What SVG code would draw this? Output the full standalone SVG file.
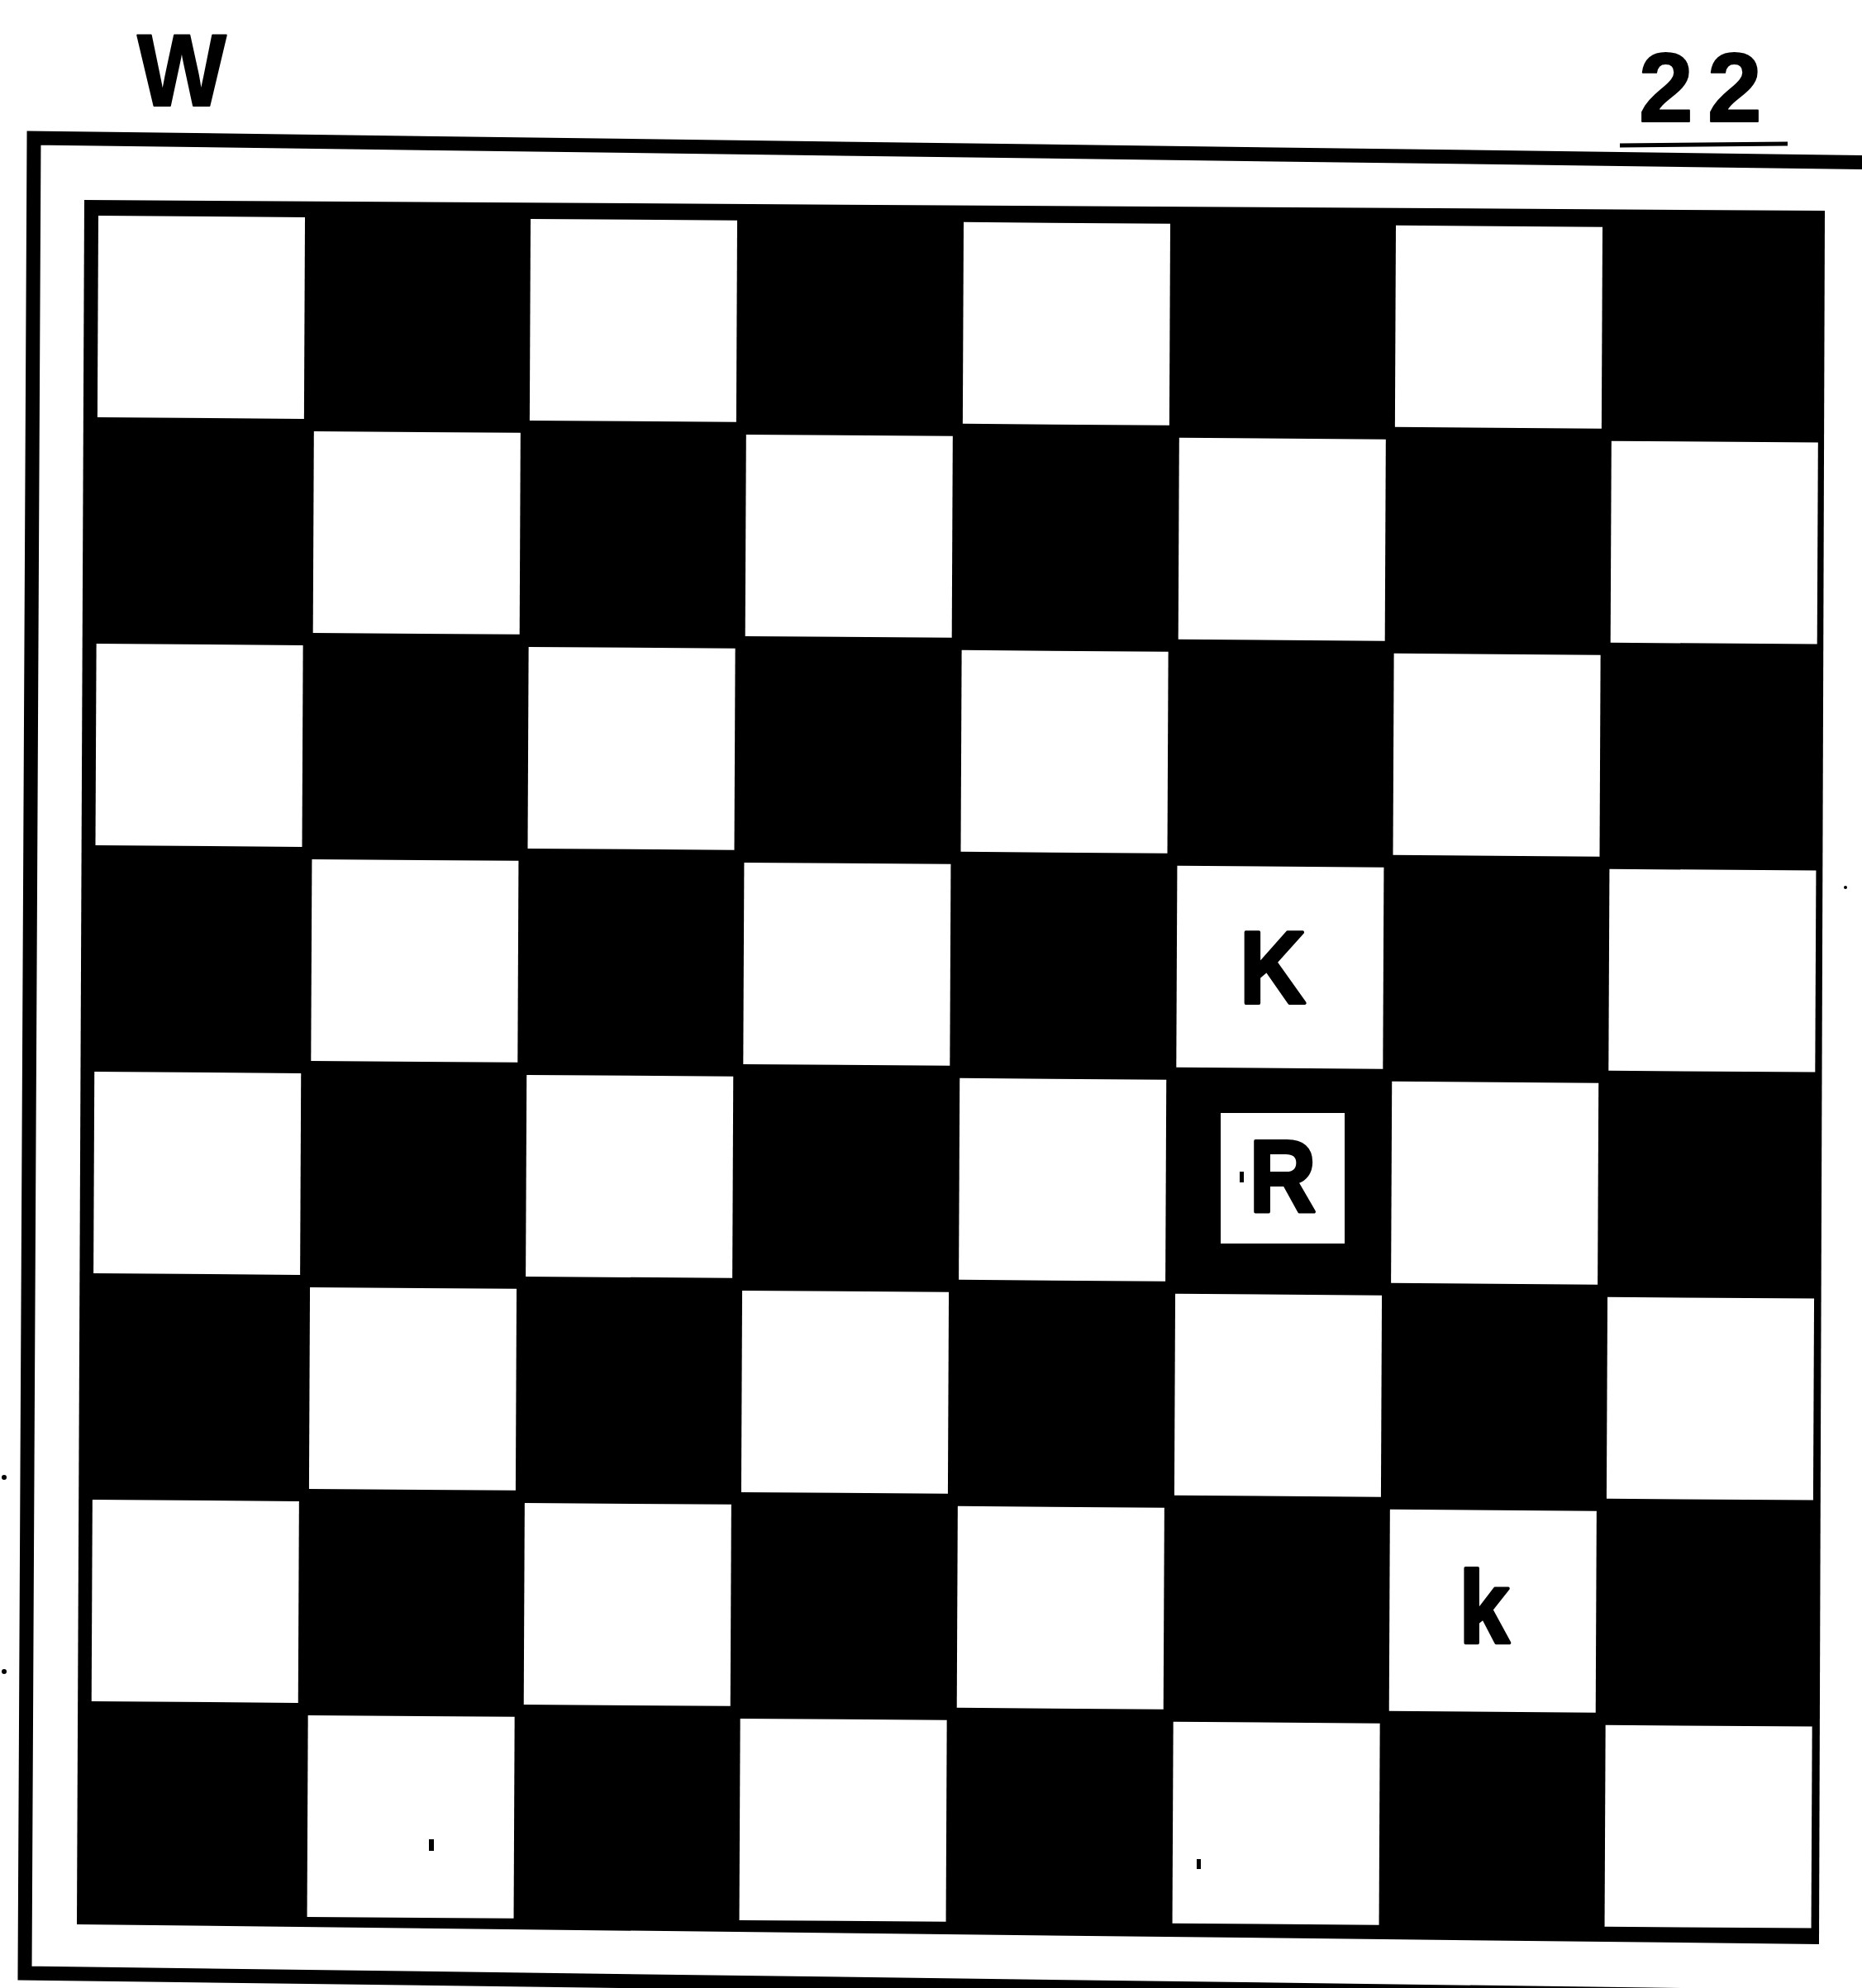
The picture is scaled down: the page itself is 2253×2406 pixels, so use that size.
<svg xmlns="http://www.w3.org/2000/svg" width="2253" height="2406" viewBox="0 0 2253 2406">
<style>
.lbl{font-family:"Liberation Sans",Arial,Helvetica,sans-serif;font-weight:bold;fill:#000;stroke:#000;stroke-width:2;stroke-linejoin:round}
.pc{stroke-width:4}
.sq{fill:#fff}
.frame{fill:none;stroke:#000;stroke-width:17;stroke-linejoin:miter}
.speck{fill:#000}
</style>
<rect width="2253" height="2406" fill="#fff"/>
<g id="frame">
<path class="frame" d="M2300 197 L41 167 L30 2388 L2300 2418"/>
<path d="M1960 176 L2163 174" stroke="#000" stroke-width="5" fill="none"/>
</g>
<g id="labels">
<text id="side" class="lbl" x="166" y="128" font-size="125" textLength="108" lengthAdjust="spacingAndGlyphs">W</text>
<g id="number">
<text class="lbl" x="1983" y="147" font-size="118">2</text>
<text class="lbl" x="2066" y="147" font-size="118">2</text>
</g>
</g>
<g id="board">
<polygon points="102,242 2208,255 2201,2353 93,2329" fill="#000"/>
<g id="squares" transform="matrix(1,0.0075,-0.0046,1,119,261)">
<rect class="sq" x="0" y="0" width="250" height="244"/>
<rect class="sq" x="523" y="0" width="250" height="244"/>
<rect class="sq" x="1047" y="0" width="250" height="244"/>
<rect class="sq" x="1570" y="0" width="250" height="244"/>
<rect class="sq" x="262" y="259" width="250" height="244"/>
<rect class="sq" x="785" y="259" width="250" height="244"/>
<rect class="sq" x="1309" y="259" width="250" height="244"/>
<rect class="sq" x="1832" y="259" width="250" height="244"/>
<rect class="sq" x="0" y="518" width="250" height="244"/>
<rect class="sq" x="523" y="518" width="250" height="244"/>
<rect class="sq" x="1047" y="518" width="250" height="244"/>
<rect class="sq" x="1570" y="518" width="250" height="244"/>
<rect class="sq" x="262" y="777" width="250" height="244"/>
<rect class="sq" x="785" y="777" width="250" height="244"/>
<rect class="sq" x="1309" y="777" width="250" height="244"/>
<rect class="sq" x="1832" y="777" width="250" height="244"/>
<rect class="sq" x="0" y="1036" width="250" height="244"/>
<rect class="sq" x="523" y="1036" width="250" height="244"/>
<rect class="sq" x="1047" y="1036" width="250" height="244"/>
<rect class="sq" x="1570" y="1036" width="250" height="244"/>
<rect class="sq" x="262" y="1295" width="250" height="244"/>
<rect class="sq" x="785" y="1295" width="250" height="244"/>
<rect class="sq" x="1309" y="1295" width="250" height="244"/>
<rect class="sq" x="1832" y="1295" width="250" height="244"/>
<rect class="sq" x="0" y="1554" width="250" height="244"/>
<rect class="sq" x="523" y="1554" width="250" height="244"/>
<rect class="sq" x="1047" y="1554" width="250" height="244"/>
<rect class="sq" x="1570" y="1554" width="250" height="244"/>
<rect class="sq" x="262" y="1813" width="250" height="244"/>
<rect class="sq" x="785" y="1813" width="250" height="244"/>
<rect class="sq" x="1309" y="1813" width="250" height="244"/>
<rect class="sq" x="1832" y="1813" width="250" height="244"/>
</g>
<g id="specks">
<circle class="speck" cx="5" cy="1788" r="3"/>
<circle class="speck" cx="5" cy="2023" r="3"/>
<circle class="speck" cx="2233" cy="1074" r="2"/>
<rect class="speck" x="519" y="2226" width="6" height="14"/>
<rect class="speck" x="1448" y="2250" width="5" height="12"/>
<rect class="speck" x="1500" y="1418" width="5" height="13"/>
</g>
</g>
<g id="pieces">
<g id="white-king">
<text class="lbl pc" x="1540" y="1214" font-size="125" text-anchor="middle" textLength="80" lengthAdjust="spacingAndGlyphs">K</text>
</g>
<g id="white-rook">
<rect x="1477" y="1347" width="150" height="158" fill="#fff"/>
<rect class="speck" x="1500" y="1418" width="5" height="13"/>
<text class="lbl pc" x="1552" y="1467" font-size="125" text-anchor="middle" textLength="81" lengthAdjust="spacingAndGlyphs">R</text>
</g>
<g id="black-king">
<text class="lbl pc" x="1796" y="1988" font-size="125" text-anchor="middle" textLength="61" lengthAdjust="spacingAndGlyphs">k</text>
</g>
</g>
</svg>
